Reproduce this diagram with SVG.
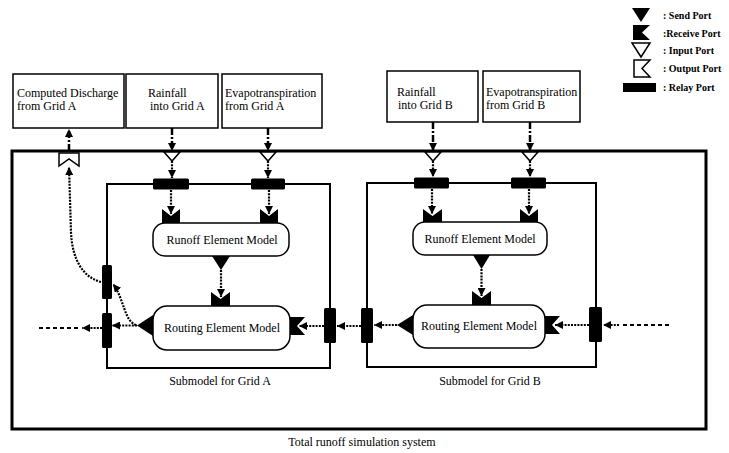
<svg xmlns="http://www.w3.org/2000/svg" width="729" height="453" viewBox="0 0 729 453">
<style>
text{font-family:"Liberation Serif","Times New Roman",serif;font-size:12px;fill:#000}
.lg{font-size:10px;font-weight:bold}
.box{fill:#fff;stroke:#000;stroke-width:1.5}
.frame{fill:none;stroke:#000;stroke-width:3}
.sub{fill:none;stroke:#000;stroke-width:2}
.model{fill:#fff;stroke:#000;stroke-width:1.5}
.blk{fill:#000}
.hol{fill:#fff;stroke:#000;stroke-width:1.5}
.dot{fill:none;stroke:#000;stroke-width:2.2;stroke-dasharray:2 1.2}
.dd{fill:none;stroke:#000;stroke-width:2.5;stroke-dasharray:7 2 2 2}
.dash{fill:none;stroke:#000;stroke-width:2;stroke-dasharray:4 3}
.c{text-anchor:middle}
</style>
<defs>
<marker id="ah" viewBox="0 0 10 10" refX="10" refY="5" markerWidth="8" markerHeight="8" markerUnits="userSpaceOnUse" orient="auto"><path d="M0,0 L10,5 L0,10 z" fill="#000"/></marker>
</defs>

<g id="legend">
<polygon class="blk" points="632,8 650,8 641,22"/>
<text class="lg" x="663" y="19">: Send Port</text>
<polygon class="blk" points="633,25 650,25 642,32.5 650,40 633,40"/>
<text class="lg" x="663" y="37">:Receive Port</text>
<polygon class="hol" points="632,43 650,43 641,57"/>
<text class="lg" x="663" y="54">: Input Port</text>
<polygon class="hol" points="634,60 650,60 642,68.5 650,77 634,77"/>
<text class="lg" x="663" y="72">: Output Port</text>
<rect class="blk" x="623" y="83" width="33" height="9"/>
<text class="lg" x="663" y="91">: Relay Port</text>
</g>

<g id="system">
<rect class="frame" x="12" y="151" width="694" height="278"/>
<text class="c" x="362" y="446">Total runoff simulation system</text>
</g>

<g id="box-discharge">
<rect class="box" x="13" y="74" width="111" height="54"/>
<text x="17" y="97">Computed Discharge</text>
<text x="17" y="110">from Grid A</text>
</g>
<g id="box-rain-a">
<rect class="box" x="126" y="74" width="92" height="54"/>
<text x="148" y="97">Rainfall</text>
<text x="150" y="110">into Grid A</text>
</g>
<g id="box-evap-a">
<rect class="box" x="222" y="74" width="100" height="54"/>
<text x="225" y="97">Evapotranspiration</text>
<text x="225" y="110">from Grid A</text>
</g>
<g id="box-rain-b">
<rect class="box" x="387" y="71" width="91" height="51"/>
<text x="397" y="96">Rainfall</text>
<text x="398" y="109">into Grid B</text>
</g>
<g id="box-evap-b">
<rect class="box" x="483" y="71" width="97" height="51"/>
<text x="486" y="96">Evapotranspiration</text>
<text x="486" y="109">from Grid B</text>
</g>

<g id="ports-system">
<polygon class="hol" points="59,153 79,153 79,166 69,159 59,166"/>
<polygon class="hol" points="164,152 180,152 172,161"/>
<polygon class="hol" points="260,152 276,152 268,161"/>
<polygon class="hol" points="425,152 441,152 433,161"/>
<polygon class="hol" points="522,152 538,152 530,161"/>
</g>

<g id="submodel-a">
<rect class="sub" x="107" y="184" width="223" height="184"/>
<text class="c" x="220" y="385">Submodel for Grid A</text>
<rect class="blk" x="153" y="178.5" width="36" height="11" rx="1.5"/>
<rect class="blk" x="251" y="178.5" width="34" height="11" rx="1.5"/>
<rect class="blk" x="102" y="265" width="10" height="34" rx="1.5"/>
<rect class="blk" x="102" y="313" width="10" height="35" rx="1.5"/>
<rect class="blk" x="324" y="308" width="12" height="35" rx="1.5"/>
</g>
<g id="runoff-a">
<polygon class="blk" points="162,209 171,216 180,209 180,223 162,223"/>
<polygon class="blk" points="260,209 269,216 278,209 278,223 260,223"/>
<rect class="model" x="153" y="223" width="136" height="33" rx="12"/>
<text class="c" x="222" y="244">Runoff Element Model</text>
<polygon class="blk" points="212,256 230,256 221,270"/>
</g>
<g id="routing-a">
<polygon class="blk" points="211,292 220.5,299 230,292 230,306 211,306"/>
<rect class="model" x="153" y="306" width="137" height="44" rx="14"/>
<text class="c" x="222" y="332">Routing Element Model</text>
<polygon class="blk" points="153,315 153,336 137,325.5"/>
<polygon class="blk" points="290,317 305,317 297,326 305,335 290,335"/>
</g>

<g id="submodel-b">
<rect class="sub" x="367" y="183" width="229" height="184"/>
<text class="c" x="490" y="385">Submodel for Grid B</text>
<rect class="blk" x="414" y="177.5" width="35" height="11" rx="1.5"/>
<rect class="blk" x="511" y="177.5" width="35" height="11" rx="1.5"/>
<rect class="blk" x="361" y="308" width="12" height="35" rx="1.5"/>
<rect class="blk" x="589" y="307" width="13" height="35" rx="1.5"/>
</g>
<g id="runoff-b">
<polygon class="blk" points="423,209 432.5,216 442,209 442,222 423,222"/>
<polygon class="blk" points="520,209 529,216 538,209 538,222 520,222"/>
<rect class="model" x="413" y="222" width="134" height="33" rx="12"/>
<text class="c" x="480" y="243">Runoff Element Model</text>
<polygon class="blk" points="473,255 490,255 481.5,269"/>
</g>
<g id="routing-b">
<polygon class="blk" points="472,291 481.5,298 491,291 491,305 472,305"/>
<rect class="model" x="413" y="305" width="132" height="43" rx="14"/>
<text class="c" x="479" y="330">Routing Element Model</text>
<polygon class="blk" points="413,315 413,335 397,325"/>
<polygon class="blk" points="545,316 560,316 552,325 560,334 545,334"/>
</g>

<g id="connectors">
<line class="dd" x1="172" y1="128" x2="172" y2="151" marker-end="url(#ah)"/>
<line class="dd" x1="268" y1="128" x2="268" y2="151" marker-end="url(#ah)"/>
<line class="dd" x1="433" y1="122" x2="433" y2="151" marker-end="url(#ah)"/>
<line class="dd" x1="530" y1="122" x2="530" y2="151" marker-end="url(#ah)"/>
<line class="dd" x1="69" y1="151" x2="69" y2="129" marker-end="url(#ah)"/>
<line class="dot" x1="172" y1="161" x2="172" y2="178" marker-end="url(#ah)"/>
<line class="dot" x1="268" y1="161" x2="268" y2="178" marker-end="url(#ah)"/>
<line class="dot" x1="433" y1="161" x2="433" y2="177" marker-end="url(#ah)"/>
<line class="dot" x1="530" y1="161" x2="530" y2="177" marker-end="url(#ah)"/>
<line class="dot" x1="171" y1="190" x2="171" y2="214" marker-end="url(#ah)"/>
<line class="dot" x1="269" y1="190" x2="269" y2="214" marker-end="url(#ah)"/>
<line class="dot" x1="432" y1="189" x2="432" y2="214" marker-end="url(#ah)"/>
<line class="dot" x1="529" y1="189" x2="529" y2="214" marker-end="url(#ah)"/>
<line class="dot" x1="221" y1="270" x2="221" y2="297" marker-end="url(#ah)"/>
<line class="dot" x1="481.5" y1="269" x2="481.5" y2="296" marker-end="url(#ah)"/>
<line class="dot" x1="137" y1="325.5" x2="112" y2="325.5" marker-end="url(#ah)"/>
<line class="dot" x1="102" y1="328" x2="82" y2="328" marker-end="url(#ah)"/>
<line class="dash" x1="78" y1="328" x2="38" y2="328"/>
<path class="dot" d="M136,325 C124,321 124,298 113,284" marker-end="url(#ah)"/>
<path class="dot" d="M101,282 C82,277 72,258 71,232 L69,167" marker-end="url(#ah)"/>
<line class="dot" x1="324" y1="326" x2="299" y2="326" marker-end="url(#ah)"/>
<line class="dot" x1="361" y1="326" x2="337" y2="326" marker-end="url(#ah)"/>
<line class="dot" x1="397" y1="325" x2="374" y2="325" marker-end="url(#ah)"/>
<line class="dot" x1="589" y1="325" x2="555" y2="325" marker-end="url(#ah)"/>
<line class="dot" x1="619" y1="325" x2="603" y2="325" marker-end="url(#ah)"/>
<line class="dash" x1="623" y1="325" x2="672" y2="325"/>
</g>
</svg>
